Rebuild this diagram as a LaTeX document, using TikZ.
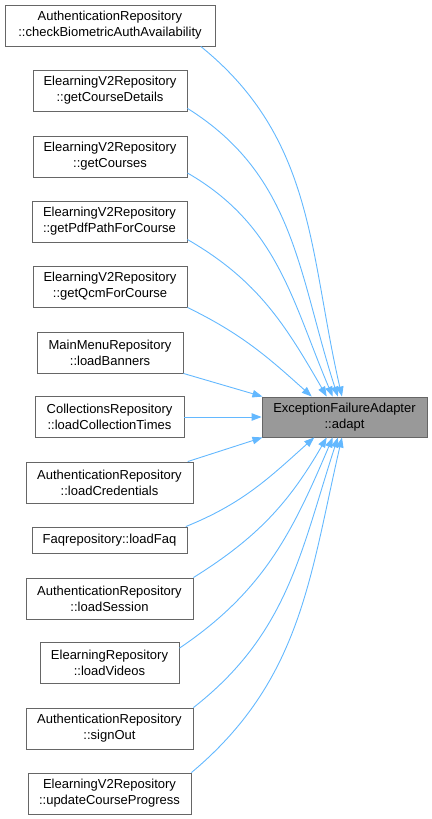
\documentclass[tikz,border=0pt]{standalone}
\usepackage{fontspec}
\setmainfont{Liberation Sans}
\usetikzlibrary{arrows.meta}
\definecolor{DXedge}{HTML}{63B8FF}
\definecolor{DXborder}{HTML}{666666}
\definecolor{DXfill}{HTML}{999999}

\begin{document}
\begin{tikzpicture}[x=1pt,y=-1pt,>={Triangle[length=10pt,width=7.5pt]},
  fn/.style={draw=DXborder,fill=white,line width=0.9pt,minimum height=41pt,inner sep=0pt,
    align=center,font=\fontsize{13}{16}\selectfont},
  call/.style={->,DXedge,line width=0.9pt}]
  \useasboundingbox (0,0) rectangle (431,819);
  \node[fn,minimum width=210pt] (checkbio) at (110,25.5) {AuthenticationRepository\\::checkBiometricAuthAvailability};
  \node[fn,minimum width=154pt] (coursedetails) at (110,90.5) {ElearningV2Repository\\::getCourseDetails};
  \node[fn,minimum width=154pt] (courses) at (110,156.5) {ElearningV2Repository\\::getCourses};
  \node[fn,minimum width=155pt] (pdfpath) at (109.5,221.5) {ElearningV2Repository\\::getPdfPathForCourse};
  \node[fn,minimum width=154pt] (qcm) at (110,286.5) {ElearningV2Repository\\::getQcmForCourse};
  \node[fn,minimum width=146pt] (banners) at (110,352.5) {MainMenuRepository\\::loadBanners};
  \node[fn,minimum width=149pt] (collections) at (109.5,417) {CollectionsRepository\\::loadCollectionTimes};
  \node[fn,minimum width=167pt] (credentials) at (109.5,482.5) {AuthenticationRepository\\::loadCredentials};
  \node[fn,minimum width=155pt,minimum height=26pt] (faq) at (109.5,540) {Faqrepository::loadFaq};
  \node[fn,minimum width=167pt] (session) at (109.5,598.5) {AuthenticationRepository\\::loadSession};
  \node[fn,minimum width=139pt] (videos) at (109.5,663) {ElearningRepository\\::loadVideos};
  \node[fn,minimum width=167pt] (signout) at (109.5,728.5) {AuthenticationRepository\\::signOut};
  \node[fn,minimum width=163pt] (progress) at (109.5,793.5) {ElearningV2Repository\\::updateCourseProgress};
  \node[fn,fill=DXfill,minimum width=165pt,minimum height=40pt] (adapt) at (344.5,417) {ExceptionFailureAdapter\\::adapt};

  \foreach \src/\a/\o/\t/\i in {checkbio/-13/-39/97/103, coursedetails/-13/-32/108/108,
      courses/-12/-30/120/113, pdfpath/-13/-30/131/120, qcm/south east/-26/148/138,
      faq/10/22/214/-138, session/north east/32/229/-120, videos/12/34/240/-113,
      signout/north east/38/252/-108, progress/north east/40/263/-103}
    \draw[call] (\src.\a) to[out=\o,in=\i] (adapt.\t);
  \draw[call] (banners.south east) -- (adapt.166);
  \draw[call] (collections.east) -- (adapt.west);
  \draw[call] (credentials.15) -- (adapt.194);
\end{tikzpicture}
\end{document}
